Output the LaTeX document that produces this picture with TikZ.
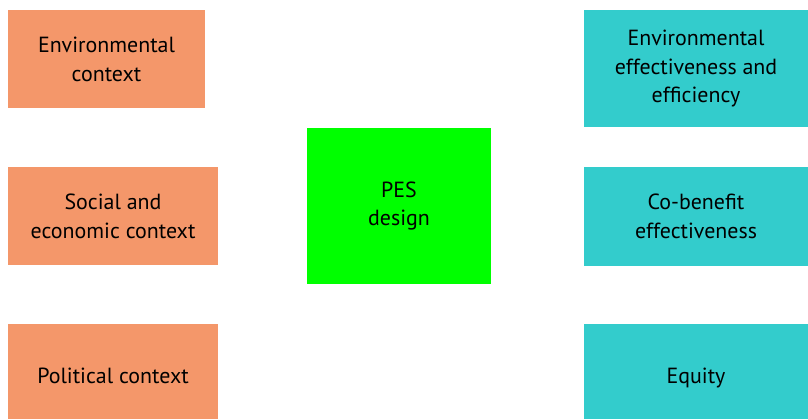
\documentclass[tikz,border=0pt]{standalone}
\usepackage{fontspec}
\setmainfont{PT Sans}
\usepackage{tikz}
\definecolor{ctxorange}{RGB}{244,151,106}
\definecolor{outcyan}{RGB}{51,204,204}
\definecolor{pesgreen}{RGB}{0,255,0}
\tikzset{
  pesnode/.style={inner sep=0pt,align=center,font=\fontsize{22}{29}\selectfont},
  ctxbox/.style={pesnode,fill=ctxorange},
  outbox/.style={pesnode,fill=outcyan},
  designbox/.style={pesnode,fill=pesgreen},
  lowtext/.style={text height=23.5bp,text depth=0pt}
}

\begin{document}
\begin{tikzpicture}[x=1bp,y=-1bp]
  \useasboundingbox (0,0) rectangle (808,419);
  % context boxes
  \node[ctxbox,minimum width=197bp,minimum height=98bp] (envctx) at (106.5,59) {Environmental\\context};
  \node[ctxbox,minimum width=210bp,minimum height=98bp] (socctx) at (113,216) {Social and\\economic context};
  \node[ctxbox,lowtext,minimum width=210bp,minimum height=95bp] (polctx) at (113,371.5) {Political context};
  % design
  \node[designbox,minimum width=184bp,minimum height=156bp] (pes) at (399,206) {PES\\design};
  % outcome boxes
  \node[outbox,minimum width=224bp,minimum height=117bp] (enveff) at (696,68.5) {Environmental\\effectiveness and\\efficiency};
  \node[outbox,minimum width=224bp,minimum height=99bp] (cobenefit) at (696,216.5) {Co-benefit\\effectiveness};
  \node[outbox,lowtext,minimum width=224bp,minimum height=95bp] (equity) at (696,371.5) {Equity};
\end{tikzpicture}
\end{document}
